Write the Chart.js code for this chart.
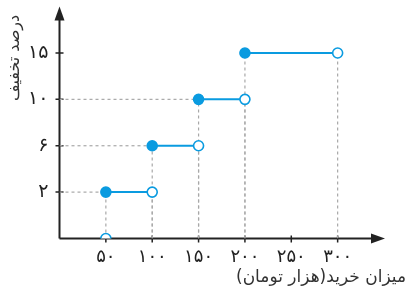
<!DOCTYPE html>
<html>
<head>
<meta charset="utf-8">
<script src="https://cdn.jsdelivr.net/npm/chart.js@4"></script>
<style>
  html, body { margin: 0; padding: 0; background: #fff; }
  #wrap { width: 409px; height: 294px; }
</style>
</head>
<body>
<div id="wrap"><canvas id="chart"></canvas></div>
<script>
// step function data
const segStart = [50, 100, 150, 200];
const segEnd = [100, 150, 200, 300];
const discount = [2, 6, 10, 15];

// y axis is evenly spaced by category, not linear
const yTickValues = [0, 2, 6, 10, 15];
const yTickLabels = ["", "۲", "۶", "۱۰", "۱۵"];
const xTickValues = [50, 100, 150, 200, 250, 300];
const xTickLabels = ["۵۰", "۱۰۰", "۱۵۰", "۲۰۰", "۲۵۰", "۳۰۰"];

const yTitle = "درصد تخفیف";
const xTitle = "میزان خرید(هزار تومان)";

const blue = "#0a9be0";
const dashGray = "#a8a8a8";
const axisColor = "#222";
const font = "'DejaVu Sans', sans-serif";

const yIdx = (v) => yTickValues.indexOf(v);

const datasets = [];

// step segments: filled start, open end
segStart.forEach((s, i) => {
  datasets.push({
    data: [{ x: s, y: yIdx(discount[i]) }, { x: segEnd[i], y: yIdx(discount[i]) }],
    borderColor: blue,
    borderWidth: 2,
    pointRadius: 5,
    pointBorderWidth: 1.6,
    pointBorderColor: blue,
    pointBackgroundColor: [blue, "#fff"],
    order: 1,
  });
});

// open point on the x axis at the first value
datasets.push({
  data: [{ x: segStart[0], y: 0 }],
  showLine: false,
  pointRadius: 5,
  pointBorderWidth: 1.6,
  pointBorderColor: blue,
  pointBackgroundColor: "#fff",
  order: 0,
});

// dashed guide lines
const guide = (pts) => ({
  data: pts,
  borderColor: dashGray,
  borderWidth: 1.2,
  borderDash: [3, 3],
  pointRadius: 0,
  order: 5,
});
segStart.forEach((s, i) => {
  const y = yIdx(discount[i]);
  datasets.push(guide([{ x: s, y: 0 }, { x: s, y: y }]));
  datasets.push(guide([{ x: segEnd[i], y: 0 }, { x: segEnd[i], y: y }]));
  if (i < segStart.length - 1) {
    datasets.push(guide([{ x: 0, y: y }, { x: s, y: y }]));
  }
});

// axes, arrows, tick marks and titles
const axesPlugin = {
  id: "axes",
  beforeDatasetsDraw(chart) {
    const { ctx, scales } = chart;
    const x0 = scales.x.getPixelForValue(0);
    const y0 = scales.y.getPixelForValue(0);
    const top = scales.y.getPixelForValue(5);
    const right = scales.x.getPixelForValue(350);
    ctx.save();
    ctx.strokeStyle = axisColor;
    ctx.fillStyle = axisColor;
    ctx.lineWidth = 2;
    ctx.beginPath();
    ctx.moveTo(x0, y0);
    ctx.lineTo(x0, top + 10);
    ctx.moveTo(x0, y0);
    ctx.lineTo(right - 8, y0);
    ctx.stroke();
    // arrow heads
    ctx.beginPath();
    ctx.moveTo(x0, top);
    ctx.lineTo(x0 - 5, top + 14);
    ctx.lineTo(x0 + 5, top + 14);
    ctx.closePath();
    ctx.fill();
    ctx.beginPath();
    ctx.moveTo(right + 1, y0);
    ctx.lineTo(right - 13, y0 - 5);
    ctx.lineTo(right - 13, y0 + 5);
    ctx.closePath();
    ctx.fill();
    // tick marks
    ctx.lineWidth = 1.5;
    ctx.beginPath();
    xTickValues.forEach((v) => {
      const px = scales.x.getPixelForValue(v);
      ctx.moveTo(px, y0 - 3);
      ctx.lineTo(px, y0 + 4);
    });
    yTickValues.slice(1).forEach((v) => {
      const py = scales.y.getPixelForValue(yIdx(v));
      ctx.moveTo(x0 - 4, py);
      ctx.lineTo(x0 + 4, py);
    });
    ctx.stroke();
    ctx.restore();
  },
  afterDraw(chart) {
    const { ctx } = chart;
    ctx.save();
    ctx.fillStyle = "#333";
    ctx.font = "16px " + font;
    ctx.direction = "rtl";
    ctx.textAlign = "center";
    ctx.textBaseline = "middle";
    ctx.translate(15, 58);
    ctx.rotate(-Math.PI / 2);
    ctx.fillText(yTitle, 0, 0);
    ctx.restore();

    ctx.save();
    ctx.fillStyle = "#333";
    ctx.font = "17px " + font;
    ctx.direction = "rtl";
    ctx.textAlign = "right";
    ctx.textBaseline = "middle";
    ctx.fillText(xTitle, 406, 278);
    ctx.restore();
  },
};

new Chart(document.getElementById("chart"), {
  type: "line",
  data: { datasets },
  options: {
    responsive: true,
    maintainAspectRatio: false,
    animation: false,
    layout: { padding: { top: 5.5, right: 25, left: 0, bottom: 0 } },
    plugins: { legend: { display: false }, tooltip: { enabled: false } },
    scales: {
      x: {
        type: "linear",
        min: 0,
        max: 350,
        afterFit: (s) => { s.height = 55.5; s.paddingLeft = 0; s.paddingRight = 0; },
        afterBuildTicks: (s) => { s.ticks = xTickValues.map((v) => ({ value: v })); },
        grid: { display: false, drawTicks: false },
        border: { display: false },
        ticks: {
          padding: 8,
          color: "#222",
          font: { family: font, size: 18 },
          callback: (v) => xTickLabels[xTickValues.indexOf(v)],
        },
      },
      y: {
        type: "linear",
        min: 0,
        max: 5,
        afterFit: (s) => { s.width = 59.5; s.paddingTop = 0; s.paddingBottom = 0; },
        afterBuildTicks: (s) => { s.ticks = yTickValues.slice(1).map((v) => ({ value: yIdx(v) })); },
        grid: { display: false, drawTicks: false },
        border: { display: false },
        ticks: {
          padding: 11,
          color: "#222",
          font: { family: font, size: 19 },
          callback: (v) => yTickLabels[v],
        },
      },
    },
  },
  plugins: [axesPlugin],
});
</script>
</body>
</html>
